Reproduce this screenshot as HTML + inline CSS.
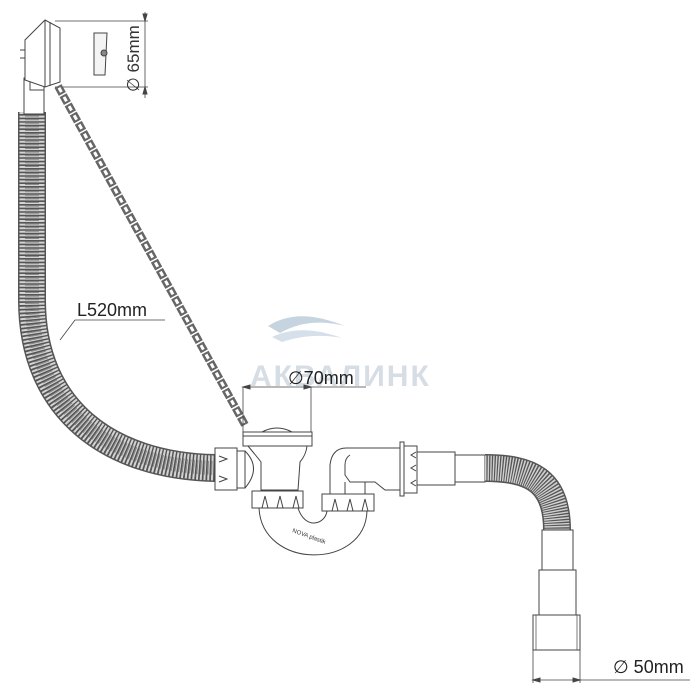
<!DOCTYPE html>
<html><head><meta charset="utf-8"><style>
html,body{margin:0;padding:0;background:#fff;}
svg{display:block;}
text{font-family:"Liberation Sans",sans-serif;}
</style></head><body>
<svg width="700" height="700" viewBox="0 0 700 700" xmlns="http://www.w3.org/2000/svg">
<g fill="none" stroke="#444" stroke-width="1">
<!-- watermark -->
<path d="M268,326 C290,312 315,314 345,326 C320,320 300,322 280,333 Z" fill="#c6d4e0" stroke="none"/>
<path d="M272,337 C295,326 320,330 342,338 C320,334 300,336 282,342 Z" fill="#d5e0ea" stroke="none"/>
<text x="250" y="386" font-size="30" font-weight="bold" fill="#d6dde5" stroke="none" letter-spacing="2">АКВАЛИНК</text>

<!-- left corrugated hose -->
<path d="M32,112 L32,300 C32,410 110,466 215,468" stroke="#555" stroke-width="28"/>
<path d="M32,112 L32,300 C32,410 110,466 215,468" stroke="#d4d4d4" stroke-width="25" stroke-dasharray="2 1.6"/>
<path d="M32,112 L32,300 C32,410 110,466 215,468" stroke="#8a8a8a" stroke-width="14" stroke-dasharray="1 2.6"/>

<!-- overflow pipe and head -->
<rect x="24" y="78" width="20" height="36" fill="#fff"/>
<path d="M45,20 L60,28 L60,82 L45,87 L25,80 L25,40 Z" fill="#fff"/>
<path d="M45,20 L45,87 M50,22 L50,86 M20,50 L25,50 L25,58 L20,58"/>
<path d="M30,82 L30,90 L44,90"/>
<!-- cap icon -->
<path d="M94,33 L107,33 L105,75 L94,75 Z" fill="#f4f4f4"/>
<circle cx="104" cy="53" r="3" fill="#888"/>
<!-- 65 dimension -->
<path d="M55,21 L148,21 M55,87 L148,87 M145,12 L145,98" stroke-width="0.8"/>
<path d="M145,21 l-2,-7 l4,0 Z M145,87 l-2,7 l4,0 Z" fill="#444"/>
<text transform="translate(139,92) rotate(-90)" font-size="17" fill="#333" stroke="none">∅ 65mm</text>

<!-- chain -->
<path d="M58,86 L245,425" stroke="#666" stroke-width="8" stroke-dasharray="9 1.5"/>
<path d="M58,86 L245,425" stroke="#fff" stroke-width="3" stroke-dasharray="5 5.5" stroke-dashoffset="-2"/>

<!-- L520 -->
<text x="77" y="316" font-size="18" fill="#222" stroke="none">L520mm</text>
<path d="M75,320 L165,320 M75,320 L60,340" stroke-width="0.8"/>

<!-- 70 dimension -->
<text x="288" y="384" font-size="18" fill="#222" stroke="none">∅70mm</text>
<path d="M243,387 L366,387 M243,387 L243,432 M311,387 L311,432" stroke-width="0.8"/>
<path d="M243,387 l7,-2 l0,4 Z M311,387 l-7,-2 l0,4 Z" fill="#444"/>

<!-- strainer -->
<rect x="243" y="432" width="69" height="14" fill="#fff"/>
<path d="M243,436 L312,436"/>
<path d="M262,432 Q277,424 292,432" />
<path d="M248,446 Q258,458 261,462 L261,490 L298,490 L300,462 Q306,455 307,446"/>
<!-- left nut -->
<rect x="215" y="448" width="22" height="42" fill="#fff"/>
<rect x="237" y="451" width="8" height="37" fill="#fff"/>
<path d="M245,451 Q262,468 245,488"/>
<path d="M219,456 l8,3 l-8,3 M219,476 l8,3 l-8,3"/>
<!-- bottom nuts -->
<rect x="252" y="491" width="51" height="17" fill="#fff"/>
<path d="M262,508 l3,-12 l3,12 M277,508 l3,-12 l3,12 M293,508 l3,-12 l3,12"/>
<rect x="322" y="494" width="52" height="17" fill="#fff"/>
<path d="M332,511 l3,-12 l3,12 M347,511 l3,-12 l3,12 M362,511 l3,-12 l3,12"/>
<!-- U trap -->
<path d="M259,508 C262,570 365,570 367,511"/>
<path d="M298,508 C305,530 325,525 327,511"/>
<text x="292" y="532" font-size="6" fill="#333" stroke="none" transform="rotate(20 292 532)">NOVA plastik</text>
<!-- elbow -->
<path d="M330,494 L330,465 Q332,447 348,448 L403,448 L403,490 L385,490 L375,482 L350,482 L345,475 L345,465 Q345,458 350,455"/>
<path d="M345,494 L345,482 M365,494 L365,482"/>
<!-- right nut -->
<rect x="400" y="442" width="4" height="54" fill="#fff"/>
<rect x="404" y="446" width="13" height="47" fill="#fff"/>
<path d="M416,452 l-5,3 l5,3 M416,465 l-5,3 l5,3 M416,480 l-5,3 l5,3"/>
<!-- pipes right -->
<rect x="417" y="452" width="38" height="33" fill="#fff"/>
<rect x="455" y="455" width="30" height="27" fill="#fff"/>
<!-- right corrugated -->
<path d="M485,468 C530,468 557,480 557,530" stroke="#555" stroke-width="28"/>
<path d="M485,468 C530,468 557,480 557,530" stroke="#d0d0d0" stroke-width="25" stroke-dasharray="1.4 1.2"/>
<rect x="542" y="530" width="31" height="40" fill="#fff"/>
<rect x="539" y="570" width="37" height="45" fill="#fff"/>
<rect x="533" y="615" width="47" height="35" fill="#fff"/>
<path d="M536,615 L536,650 M577,615 L577,650" stroke-width="0.7"/>
<!-- 50 dimension -->
<path d="M533,650 L533,683 M580,650 L580,683 M533,680 L690,680" stroke-width="0.8"/>
<path d="M533,680 l7,-2 l0,4 Z M580,680 l-7,-2 l0,4 Z" fill="#444"/>
<text x="613" y="673" font-size="18" fill="#222" stroke="none">∅ 50mm</text>
</g>
</svg>
</body></html>
